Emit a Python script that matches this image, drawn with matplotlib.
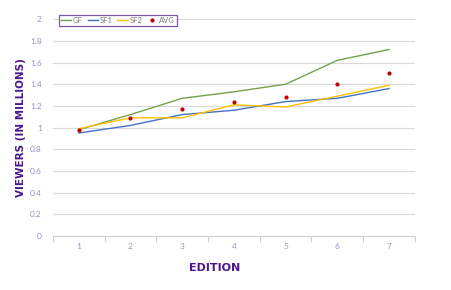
import matplotlib
matplotlib.use("Agg")
import matplotlib.pyplot as plt

editions = [1, 2, 3, 4, 5, 6, 7]
gf = [0.98, 1.12, 1.27, 1.33, 1.40, 1.62, 1.72]
sf1 = [0.95, 1.02, 1.12, 1.16, 1.24, 1.27, 1.36]
sf2 = [0.99, 1.09, 1.09, 1.21, 1.19, 1.29, 1.39]
avg = [0.98, 1.09, 1.17, 1.24, 1.28, 1.40, 1.50]
y_ticks = [0, 0.2, 0.4, 0.6, 0.8, 1, 1.2, 1.4, 1.6, 1.8, 2]
y_labels = ["0", "0.2", "0.4", "0.6", "0.8", "1", "1.2", "1.4", "1.6", "1.8", "2"]

plt.rcParams['font.family'] = ['Lato', 'DejaVu Sans']
tick_color = "#9d8fc4"
title_color = "#4b1590"

fig = plt.figure(figsize=(4.52, 2.90), dpi=100)
ax = fig.add_axes([0.117, 0.186, 0.801, 0.748])

ax.plot(editions, gf, color="#77a04a", lw=1, label="GF")
ax.plot(editions, sf1, color="#4472c4", lw=1, label="SF1")
ax.plot(editions, sf2, color="#ffc000", lw=1, label="SF2")
ax.plot(editions, avg, ls="none", marker="o", ms=2, color="#c00000", label="AVG")

ax.set_xlim(0.5, 7.5)
ax.set_ylim(0, 2)
ax.set_yticks(y_ticks)
ax.set_yticklabels(y_labels)
ax.set_xticks(editions)
ax.set_xticks([x + 0.5 for x in range(0, 8)], minor=True)
ax.tick_params(axis="x", which="major", length=0, pad=5, labelsize=6, labelcolor=tick_color)
ax.tick_params(axis="x", which="minor", length=4, color="#d0d0d0", width=0.8)
ax.tick_params(axis="y", length=0, pad=8, labelsize=6, labelcolor=tick_color)
ax.grid(axis="y", color="#d9d9d9", lw=0.8)
ax.set_axisbelow(True)
for s in ["left", "right", "top"]:
    ax.spines[s].set_visible(False)
ax.spines["bottom"].set_color("#d0d0d0")
ax.spines["bottom"].set_linewidth(0.8)

ax.set_ylabel("VIEWERS (IN MILLIONS)", fontsize=7.5, fontweight="bold", color=title_color,
              family="DejaVu Sans")
ax.yaxis.set_label_coords(-0.075, 0.5)
ax.set_xlabel("EDITION", fontsize=8, fontweight="bold", color=title_color, family="DejaVu Sans")
ax.xaxis.set_label_coords(0.4475, -0.122)

leg = ax.legend(ncol=4, loc="upper left", bbox_to_anchor=(0.0166, 1.018), fontsize=5.5,
                frameon=True, fancybox=False, handlelength=1.4, handletextpad=0.2,
                columnspacing=0.6, borderpad=0.25, borderaxespad=0, labelcolor="#7f7f7f")
leg.get_frame().set_edgecolor("#5c2d91")
leg.get_frame().set_linewidth(0.9)

fig.savefig("out.png", dpi=100)
